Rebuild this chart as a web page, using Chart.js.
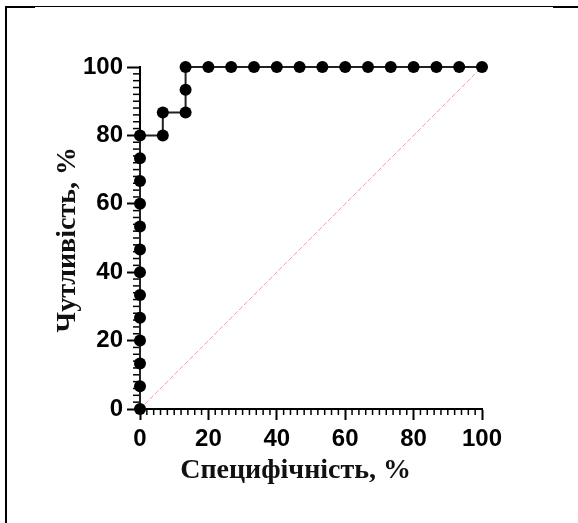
<!DOCTYPE html>
<html>
<head>
<meta charset="utf-8">
<script src="https://cdn.jsdelivr.net/npm/chart.js@4.4.1/dist/chart.umd.min.js"></script>
<style>
  html, body { margin: 0; padding: 0; background: #fff; }
  canvas { display: block; }
</style>
</head>
<body>
<canvas id="roc" width="578" height="523"></canvas>
<script>
// ROC curve points (x = специфічність, y = чутливість), step = 1/15
const specificity = [0, 0, 0, 0, 0, 0, 0, 0, 0, 0, 0, 0, 0,
  6.67, 6.67, 13.33, 13.33, 13.33,
  20, 26.67, 33.33, 40, 46.67, 53.33, 60, 66.67, 73.33, 80, 86.67, 93.33, 100];
const sensitivity = [0, 6.67, 13.33, 20, 26.67, 33.33, 40, 46.67, 53.33, 60, 66.67, 73.33, 80,
  80, 86.67, 86.67, 93.33, 100,
  100, 100, 100, 100, 100, 100, 100, 100, 100, 100, 100, 100, 100];
const diagonalX = [0, 100];
const diagonalY = [0, 100];
const xTitle = "Специфічність, %";
const yTitle = "Чутливість, %";

const rocPoints = specificity.map((x, i) => ({ x: x, y: sensitivity[i] }));
const diagPoints = diagonalX.map((x, i) => ({ x: x, y: diagonalY[i] }));

const tickFont = { family: "'Liberation Sans', Arial, sans-serif", size: 24, weight: "bold" };
const titleFont = "bold 28px 'Liberation Serif', 'Times New Roman', serif";

// frame around the picture + minor ticks + axis titles
const extras = {
  id: "extras",
  beforeDraw(chart) {
    const ctx = chart.ctx;
    ctx.save();
    ctx.fillStyle = "#000";
    ctx.fillRect(5, 6, 2, 523);
    ctx.fillRect(5, 6, 30, 2);
    ctx.fillRect(35, 6, 518, 1);
    ctx.fillRect(553, 6, 25, 2);
    ctx.restore();
  },
  beforeDatasetsDraw(chart) {
    const ctx = chart.ctx;
    const xs = chart.scales.x, ys = chart.scales.y;
    const area = chart.chartArea;
    ctx.save();
    ctx.strokeStyle = "#000";
    ctx.lineWidth = 1.5;
    for (let v = 0; v <= 100; v += 2) {
      if (v % 20 === 0) continue;
      const py = ys.getPixelForValue(v);
      ctx.beginPath();
      ctx.moveTo(area.left - 7, py);
      ctx.lineTo(area.left, py);
      ctx.stroke();
      const px = xs.getPixelForValue(v);
      ctx.beginPath();
      ctx.moveTo(px, area.bottom);
      ctx.lineTo(px, area.bottom + 6);
      ctx.stroke();
    }
    ctx.restore();
  },
  afterDraw(chart) {
    const ctx = chart.ctx;
    const xs = chart.scales.x, ys = chart.scales.y;
    ctx.save();
    ctx.fillStyle = "#111";
    ctx.font = titleFont;
    ctx.textAlign = "center";
    ctx.textBaseline = "alphabetic";
    ctx.fillText(xTitle, xs.getPixelForValue(45.5), 478);
    ctx.translate(75, ys.getPixelForValue(49.5));
    ctx.rotate(-Math.PI / 2);
    ctx.fillText(yTitle, 0, 0);
    ctx.restore();
  }
};

new Chart(document.getElementById("roc"), {
  type: "scatter",
  plugins: [extras],
  data: {
    datasets: [
      {
        data: diagPoints,
        showLine: true,
        borderColor: "rgba(240, 130, 150, 0.75)",
        borderWidth: 1,
        borderDash: [5, 2],
        pointRadius: 0,
        order: 2
      },
      {
        data: rocPoints,
        showLine: true,
        borderColor: "#222",
        borderWidth: 2,
        pointRadius: 6,
        pointBackgroundColor: "#000",
        pointBorderColor: "#000",
        pointBorderWidth: 0,
        clip: false,
        order: 1
      }
    ]
  },
  options: {
    responsive: false,
    animation: false,
    layout: { padding: { top: 67, right: 96, left: 0, bottom: 0 } },
    plugins: {
      legend: { display: false },
      tooltip: { enabled: false }
    },
    scales: {
      x: {
        type: "linear",
        min: 0,
        max: 100,
        afterFit: (scale) => { scale.height = 114; },
        border: { display: true, color: "#000", width: 2 },
        grid: { drawOnChartArea: false, drawTicks: true, tickLength: 11, tickWidth: 2, tickColor: "#000" },
        ticks: { stepSize: 20, color: "#000", font: tickFont, padding: 5, maxRotation: 0 }
      },
      y: {
        type: "linear",
        min: 0,
        max: 100,
        afterFit: (scale) => { scale.width = 140; },
        border: { display: true, color: "#000", width: 2 },
        grid: { drawOnChartArea: false, drawTicks: true, tickLength: 13, tickWidth: 2, tickColor: "#000" },
        ticks: { stepSize: 20, color: "#000", font: tickFont, padding: 4 }
      }
    }
  }
});
</script>
</body>
</html>
